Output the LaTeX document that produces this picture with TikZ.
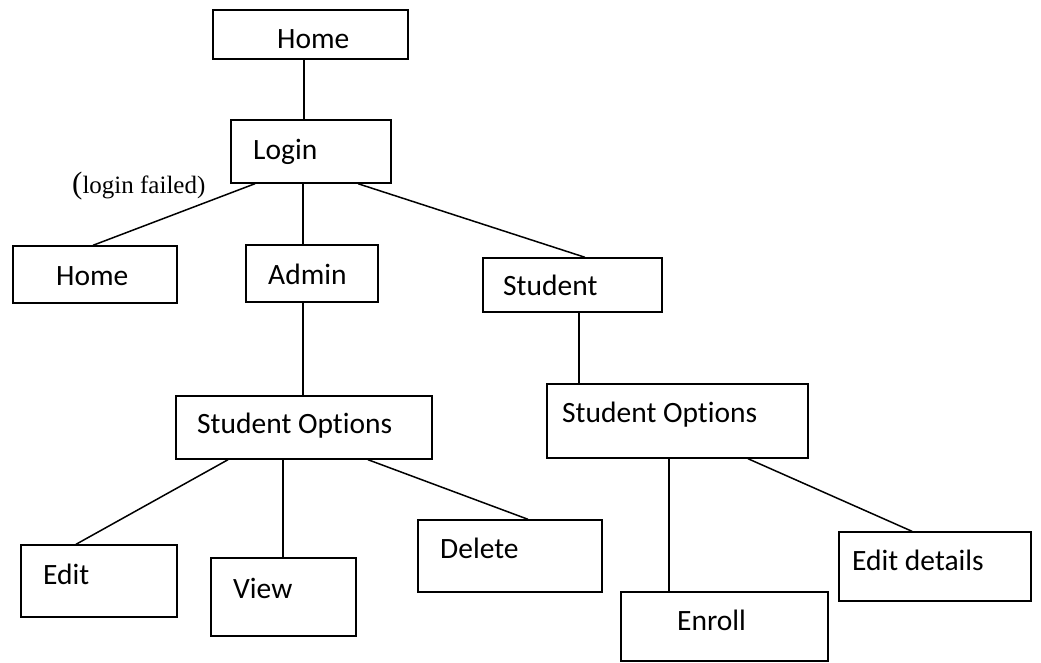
\documentclass[tikz,border=0pt]{standalone}
\usepackage{fontspec}
\setmainfont{Carlito}[Ligatures=NoCommon]
\newfontfamily\noteserif{Liberation Serif}
\tikzset{
  x=1pt, y=-1pt,
  box/.style={draw, line width=1.4pt, inner sep=0pt},
  lbl/.style={anchor=base west, inner sep=0pt, font=\fontsize{29.5}{31}\selectfont},
  conn/.style={line width=1.5pt},
}
\begin{document}
\begin{tikzpicture}
\useasboundingbox (0,0) rectangle (1041,662);
% boxes
\node[box, minimum width=195pt, minimum height=49pt] (home1) at (310.5,34.5) {};
\node[box, minimum width=160pt, minimum height=63pt] (login) at (311,151.5) {};
\node[box, minimum width=164pt, minimum height=57pt] (home2) at (95,274.5) {};
\node[box, minimum width=132pt, minimum height=57pt] (admin) at (312,273.5) {};
\node[box, minimum width=179pt, minimum height=54pt] (student) at (572.5,285) {};
\node[box, minimum width=256pt, minimum height=63pt] (so1) at (304,427.5) {};
\node[box, minimum width=261pt, minimum height=74pt] (so2) at (677.5,421) {};
\node[box, minimum width=156pt, minimum height=72pt] (edit) at (99,581) {};
\node[box, minimum width=145pt, minimum height=78pt] (view) at (283.5,597) {};
\node[box, minimum width=184pt, minimum height=72pt] (delete) at (510,556) {};
\node[box, minimum width=207pt, minimum height=69pt] (enroll) at (724.5,626.5) {};
\node[box, minimum width=192pt, minimum height=69pt] (editd) at (935,566.5) {};
% texts
\node[lbl] (home1t) at (277,48) {Home};
\node[lbl] (logint) at (253,159) {Login};
\node[anchor=base west, inner sep=0pt, font=\noteserif\fontsize{25}{27}\selectfont] (failt) at (72,193) {{\fontsize{31}{31}\selectfont(}login failed)};
\node[lbl] (home2t) at (56,285) {Home};
\node[lbl] (admint) at (268,284) {Admin};
\node[lbl] (studentt) at (503,295) {Student};
\node[lbl] (so1t) at (197,433) {Student Options};
\node[lbl] (so2t) at (562,422) {Student Options};
\node[lbl] (editt) at (43,584) {Edit};
\node[lbl] (viewt) at (233,598) {View};
\node[lbl] (deletet) at (440,558) {Delete};
\node[lbl] (enrollt) at (677,630) {Enroll};
\node[lbl] (editdt) at (852,570) {Edit details};
% connectors
\draw[conn] ([xshift=-6.5pt]home1.south) -- ([xshift=-7pt]login.north);
\draw[conn] ([xshift=-56pt]login.south) -- ([xshift=-2pt]home2.north);
\draw[conn] ([xshift=-8pt]login.south) -- ([xshift=-9pt]admin.north);
\draw[conn] ([xshift=47pt]login.south) -- ([xshift=12.5pt]student.north);
\draw[conn] ([xshift=-9pt]admin.south) -- ([xshift=-1pt]so1.north);
\draw[conn] ([xshift=6.5pt]student.south) -- ([xshift=-98.5pt]so2.north);
\draw[conn] ([xshift=-76pt]so1.south) -- ([xshift=-23pt]edit.north);
\draw[conn] ([xshift=-21pt]so1.south) -- ([xshift=-0.5pt]view.north);
\draw[conn] ([xshift=64pt]so1.south) -- ([xshift=18pt]delete.north);
\draw[conn] ([xshift=-8.5pt]so2.south) -- ([xshift=-55.5pt]enroll.north);
\draw[conn] ([xshift=70.5pt]so2.south) -- ([xshift=-23pt]editd.north);
\end{tikzpicture}
\end{document}
